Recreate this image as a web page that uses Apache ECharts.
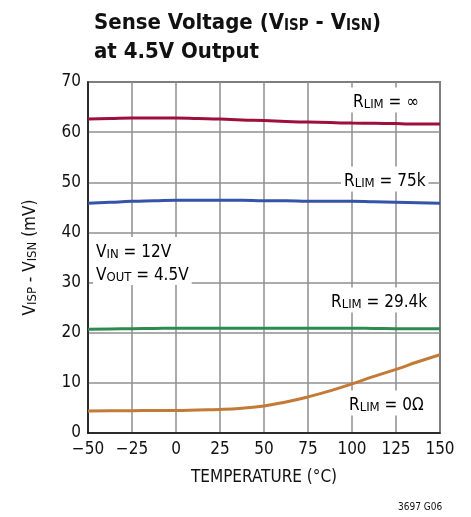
<!DOCTYPE html>
<html>
<head>
<meta charset="utf-8">
<script src="https://cdn.jsdelivr.net/npm/echarts@6/dist/echarts.min.js"></script>
<style>
  html, body { margin: 0; padding: 0; background: #fff; }
  #chart { width: 471px; height: 517px; }
</style>
</head>
<body>
<div id="chart"></div>
<script>
const FONT = '"DejaVu Sans Condensed", "Liberation Sans Narrow", sans-serif';

// temperature (°C)
const temps = [-50, -37.5, -25, -12.5, 0, 12.5, 25, 37.5, 50, 62.5, 75, 87.5, 100, 112.5, 125, 137.5, 150];
// sense voltage (mV) per RLIM
const rInf   = [62.6, 62.7, 62.8, 62.8, 62.8, 62.7, 62.6, 62.4, 62.3, 62.1, 62.0, 61.9, 61.8, 61.75, 61.7, 61.6, 61.6];
const r75k   = [45.8, 46.0, 46.2, 46.3, 46.4, 46.4, 46.4, 46.4, 46.3, 46.3, 46.2, 46.2, 46.2, 46.1, 46.0, 45.9, 45.8];
const r29k   = [20.7, 20.75, 20.8, 20.85, 20.9, 20.9, 20.9, 20.9, 20.9, 20.9, 20.9, 20.9, 20.9, 20.85, 20.8, 20.8, 20.8];
const r0     = [4.4, 4.45, 4.45, 4.5, 4.5, 4.6, 4.7, 4.95, 5.4, 6.2, 7.2, 8.4, 9.8, 11.3, 12.7, 14.2, 15.6];

const seriesNames = ['RLIM = ∞', 'RLIM = 75k', 'RLIM = 29.4k', 'RLIM = 0Ω'];
const seriesData = [rInf, r75k, r29k, r0];
const colors = ['#9e0f3a', '#3554a8', '#2f8a4f', '#c27a36'];

const pair = arr => temps.map((t, i) => [t, arr[i]]);

const rich = {
  m: { fontFamily: FONT, fontSize: 17, color: '#111', lineHeight: 23, verticalAlign: 'bottom' },
  s: { fontFamily: FONT, fontSize: 13, color: '#111', lineHeight: 16, verticalAlign: 'bottom' }
};

function label(text, x, y) {
  return {
    type: 'text', x: x, y: y, z: 50,
    style: {
      text: text, rich: rich,
      backgroundColor: '#fff', padding: [1, 3, 1, 3],
      verticalAlign: 'middle'
    }
  };
}

const chart = echarts.init(document.getElementById('chart'));
chart.setOption({
  animation: false,
  backgroundColor: '#fff',
  title: {
    left: 89, top: 0,
    text: '{a|Sense Voltage (V}{b|ISP}{a| - V}{b|ISN}{a|)}\n{a|at 4.5V Output}',
    textStyle: {
      rich: {
        a: { fontFamily: FONT, fontSize: 22, fontWeight: 'bold', color: '#111', lineHeight: 29, verticalAlign: 'bottom' },
        b: { fontFamily: FONT, fontSize: 15, fontWeight: 'bold', color: '#111', lineHeight: 23, verticalAlign: 'bottom' }
      }
    }
  },
  grid: {
    left: 88, right: 31, top: 82, bottom: 84,
    show: true, borderColor: '#111', borderWidth: 1.5, backgroundColor: 'transparent'
  },
  xAxis: {
    type: 'value', min: -50, max: 150, interval: 25,
    name: 'TEMPERATURE (°C)', nameLocation: 'middle', nameGap: 36,
    nameTextStyle: { fontFamily: FONT, fontSize: 17, color: '#111' },
    axisLine: { show: true, onZero: false, lineStyle: { color: '#111', width: 1.5 } },
    axisTick: { show: false },
    axisLabel: {
      fontFamily: FONT, fontSize: 17, color: '#111', margin: 8,
      formatter: v => v < 0 ? '\u2212' + Math.abs(v) : String(v)
    },
    splitLine: { show: true, lineStyle: { color: '#8f8f8f', width: 1.5 } }
  },
  yAxis: {
    type: 'value', min: 0, max: 70, interval: 10,
    name: '{m|V}{s|ISP}{m| - V}{s|ISN}{m| (mV)}', nameLocation: 'middle', nameGap: 49,
    nameTextStyle: { rich: rich },
    axisLine: { show: true, onZero: false, lineStyle: { color: '#111', width: 1.5 } },
    axisTick: { show: false },
    axisLabel: { fontFamily: FONT, fontSize: 17, color: '#111', margin: 7 },
    splitLine: { show: true, lineStyle: { color: '#8f8f8f', width: 1.5 } }
  },
  series: seriesData.map((d, i) => ({
    name: seriesNames[i], type: 'line', data: pair(d), smooth: true,
    showSymbol: false, z: 10,
    lineStyle: { color: colors[i], width: 3 }
  })),
  graphic: [
    label('{m|R}{s|LIM}{m| = ∞}', 350, 100),
    label('{m|R}{s|LIM}{m| = 75k}', 341, 179),
    label('{m|V}{s|IN}{m| = 12V}\n{m|V}{s|OUT}{m| = 4.5V}', 93, 261),
    label('{m|R}{s|LIM}{m| = 29.4k}', 328, 300),
    label('{m|R}{s|LIM}{m| = 0Ω}', 346, 403),
    {
      type: 'text', x: 398, y: 502,
      style: { text: '3697 G06', fontFamily: FONT, fontSize: 10, fill: '#111' }
    }
  ]
});
</script>
</body>
</html>
